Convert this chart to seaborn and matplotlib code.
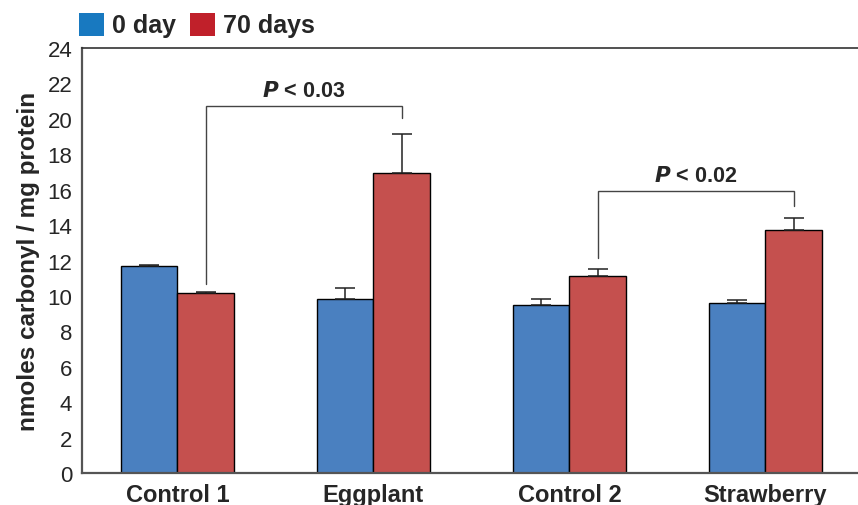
import matplotlib
matplotlib.use("Agg")
import matplotlib.pyplot as plt
import seaborn as sns
import pandas as pd
import numpy as np
from matplotlib.patches import Rectangle

# Protein carbonyl content per group, at day 0 and after 70 days
groups = ["Control 1", "Eggplant", "Control 2", "Strawberry"]
times = ["0 day", "70 days"]
mean_day0 = [11.7, 9.8, 9.5, 9.6]
mean_day70 = [10.15, 16.95, 11.15, 13.75]
err_day0 = [0.05, 0.65, 0.35, 0.15]
err_day70 = [0.05, 2.2, 0.35, 0.65]

# Significance brackets: (left group, right group, left foot, right foot, top, label)
brackets = [
    (0, 1, 10.7, 20.05, 20.7, "0.03"),
    (2, 3, 12.15, 15.1, 15.9, "0.02"),
]

bar_colors = ["#4a80c0", "#c5504e"]
legend_colors = ["#1879c0", "#c0202a"]

df = pd.DataFrame({
    "group": groups * 2,
    "time": [times[0]] * 4 + [times[1]] * 4,
    "value": mean_day0 + mean_day70,
})

sns.set_style("white")
plt.rcParams["font.family"] = ["Liberation Sans", "DejaVu Sans"]

W, H = 858, 506
fig = plt.figure(figsize=(W / 100, H / 100), dpi=100)
ax = fig.add_axes([82 / W, 32 / H, (W - 82) / W, 425 / H])

sns.barplot(data=df, x="group", y="value", hue="time", order=groups,
            hue_order=times, palette=bar_colors, width=0.577, errorbar=None,
            edgecolor="black", linewidth=1.0, saturation=1, legend=False, ax=ax)

# Upper error bars, one per bar, placed on each patch
bars = [p for p in ax.patches if p.get_height() > 0]
bars.sort(key=lambda p: p.get_x())
errs_by_pos = []
for i in range(len(groups)):
    errs_by_pos.append(err_day0[i])
    errs_by_pos.append(err_day70[i])
centers = []
for p, e in zip(bars, errs_by_pos):
    cx = p.get_x() + p.get_width() / 2
    h = p.get_height()
    centers.append(cx)
    ax.errorbar(cx, h, yerr=[[0], [e]], fmt="none", ecolor="#222222",
                elinewidth=1.1, capsize=7, capthick=1.1, zorder=3)

# Brackets between the 70-day bars
for g1, g2, y1, y2, top, lab in brackets:
    x1 = centers[2 * g1 + 1]
    x2 = centers[2 * g2 + 1]
    ax.plot([x1, x1, x2, x2], [y1, top, top, y2], color="#444444", lw=1.0,
            solid_joinstyle="miter", zorder=3)
    ax.text((x1 + x2) / 2, top + 0.3, r"$\bfit{P}$" + f" < {lab}",
            ha="center", va="bottom", fontsize=15.5, fontweight="bold")

ax.set_ylim(0, 24)
ax.set_xlim(-0.487, 3.472)
ax.set_yticks(np.arange(0, 25, 2))
ax.tick_params(axis="y", which="major", direction="out", length=5, width=1,
               color="#888888", labelsize=16, pad=2)
ax.set_xticks(range(len(groups)))
ax.set_xticklabels(groups, fontsize=17, fontweight="bold")
ax.tick_params(axis="x", which="major", length=0, pad=7)
ax.set_xticks([0.515, 1.515, 2.515], minor=True)
ax.tick_params(axis="x", which="minor", direction="out", length=6, width=1,
               color="#888888")

ax.set_xlabel("")
ax.set_ylabel("nmoles carbonyl / mg protein", fontsize=17.5,
              fontweight="bold", labelpad=5)

for side in ["left", "bottom"]:
    ax.spines[side].set_color("#555555")
    ax.spines[side].set_linewidth(1.6)
ax.spines["top"].set_color("#333333")
ax.spines["top"].set_linewidth(1.2)
ax.spines["right"].set_visible(False)

# Key above the plot: colour squares with bold labels
key_x = [79, 190]
for x0, c, lab in zip(key_x, legend_colors, times):
    fig.patches.append(Rectangle((x0 / W, 1 - 37 / H), 25 / W, 23 / H,
                                 transform=fig.transFigure, facecolor=c,
                                 edgecolor="none"))
    fig.text((x0 + 33) / W, 1 - 26 / H, lab, fontsize=18, fontweight="bold",
             ha="left", va="center")

fig.savefig("out.png", dpi=100)
